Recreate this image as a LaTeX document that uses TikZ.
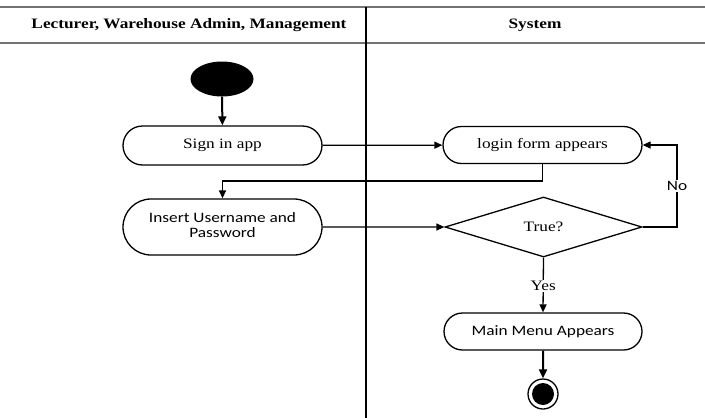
\documentclass[tikz,border=0pt]{standalone}
\usepackage{fontspec}
\setmainfont{Liberation Serif}
\newfontfamily\calib{Carlito}
\usepackage{graphicx}
\usetikzlibrary{shapes.misc,shapes.geometric,arrows.meta}

% text set slightly wide, as in the drawing
\newcommand\wide[1]{\scalebox{1.2}[1]{#1}}

\tikzset{
  lane/.style={line width=1.6pt, draw=black!55},
  divider/.style={line width=2.8pt, draw=black},
  lanehead/.style={font=\fontsize{14.4}{15.5}\selectfont\bfseries},
  activity/.style={rounded rectangle, draw, line width=1.3pt, inner sep=0pt,
    minimum width=199pt, font=\fontsize{14.4}{15.5}\selectfont},
  decision/.style={diamond, draw, line width=1.3pt, inner sep=0pt,
    minimum width=197pt, minimum height=60pt, font=\fontsize{14.4}{15.5}\selectfont},
  flow/.style={line width=1.3pt, -{Triangle[length=8pt,width=7pt]}},
  boldflow/.style={line width=2pt, -{Triangle[length=9pt,width=8pt]}},
  guard/.style={fill=white, inner sep=1.5pt, font=\fontsize{14.4}{15.5}\selectfont},
}

\begin{document}
\begin{tikzpicture}[x=1pt, y=-1pt]
\useasboundingbox (0,0) rectangle (705,418);

% swimlane header
\draw[lane] (0,7) -- (705,7);
\draw[lane] (0,43) -- (705,43);
\draw[divider] (366,7) -- (366,418);
\node[lanehead] (laneA) at (189,25) {\wide{Lecturer, Warehouse Admin, Management}};
\node[lanehead] (laneB) at (535,25) {\wide{System}};

% initial state
\node[ellipse, fill=black, minimum width=63pt, minimum height=35pt, inner sep=0pt] (start) at (222,79) {};

% activities
\node[activity, minimum height=39pt] (sign) at (222.5,145.5) {\wide{Sign in app}};
\node[activity, minimum height=56pt, font=\calib\fontsize{14.4}{15.5}\selectfont] (insert) at (222.5,227)
  {\wide{\begin{tabular}{@{}c@{}}Insert Username and\\Password\end{tabular}}};
\node[activity, minimum height=37pt] (login) at (542.5,145) {\wide{login form appears}};
\node[decision] (check) at (543.5,227) {\wide{True?}};
\node[activity, minimum height=37pt, minimum width=198pt, font=\calib\fontsize{14.4}{15.5}\selectfont] (menu) at (543,331.5) {\wide{Main Menu Appears}};

% final state
\node[circle, draw, line width=1.3pt, minimum size=30pt, inner sep=0pt] (final) at (543,394) {};
\node[circle, fill=black, minimum size=22pt, inner sep=0pt] (finalcore) at (final) {};

% transitions
\draw[boldflow] (start) -- (sign);
\draw[flow] (sign) -- (login);
\coordinate (back) at (542.5,181);
\draw[flow] (login.south) -- (back) -| (insert.north);
\draw[flow] (insert) -- (check.west);
\coordinate (noturn) at (677,227);
\draw[flow] (check.east) -- (noturn)
  -- node[guard, font=\calib\fontsize{14.4}{15.5}\selectfont] (nolabel) {\wide{No}} (noturn |- login.east)
  -- (login.east);
\draw[flow] (check.south) -- (menu.north)
  node[pos=0.52, guard] (yeslabel) {\wide{Yes}};
\draw[boldflow] (menu) -- (final);
\end{tikzpicture}
\end{document}
